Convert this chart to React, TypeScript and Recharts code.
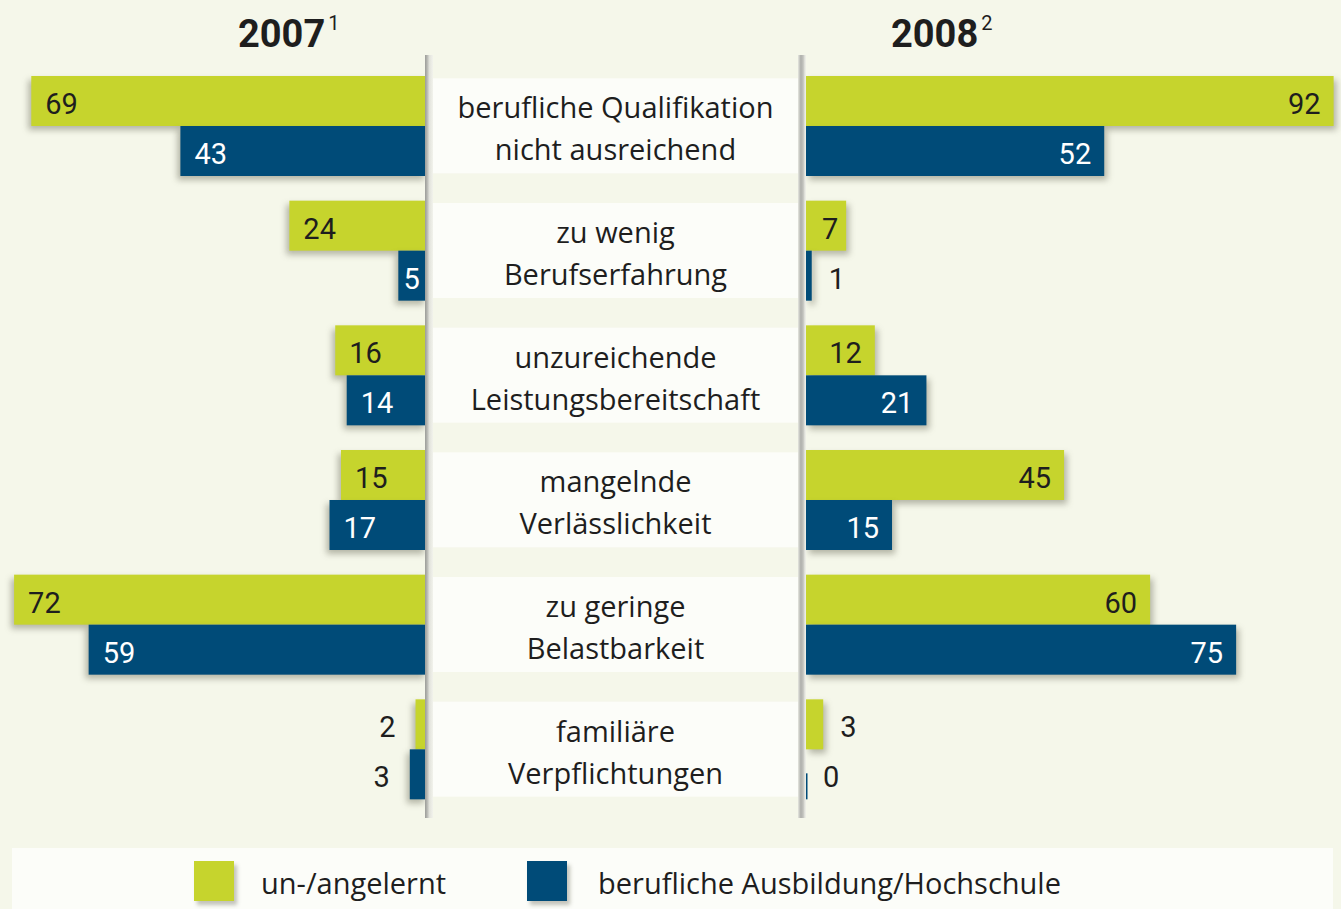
import React from 'react';
import { BarChart, Bar, XAxis, YAxis, LabelList } from 'recharts';

const CATEGORIES = [
  'berufliche Qualifikation\nnicht ausreichend',
  'zu wenig\nBerufserfahrung',
  'unzureichende\nLeistungsbereitschaft',
  'mangelnde\nVerlässlichkeit',
  'zu geringe\nBelastbarkeit',
  'familiäre\nVerpflichtungen',
];

// 2007
const UNSKILLED_2007 = [69, 24, 16, 15, 72, 2];
const TRAINED_2007 = [43, 5, 14, 17, 59, 3];
// 2008
const UNSKILLED_2008 = [92, 7, 12, 45, 60, 3];
const TRAINED_2008 = [52, 1, 21, 15, 75, 0];

const SERIES_NAMES = ['un-/angelernt', 'berufliche Ausbildung/Hochschule'];

const GREEN = '#c6d42d';
const BLUE = '#004b78';
const BG = '#f5f7ea';
const TEXT = '#1e1e1e';

const PX_PER_UNIT = 5.735;
const CHART_H = 830;
const MARGIN = { top: 64, right: 0, bottom: 18, left: 0 };

const leftData = CATEGORIES.map((cat, i) => ({ cat, a: UNSKILLED_2007[i], b: TRAINED_2007[i] }));
const rightData = CATEGORIES.map((cat, i) => ({ cat, a: UNSKILLED_2008[i], b: TRAINED_2008[i] }));

const numFont = { fontFamily: 'Roboto, sans-serif', fontSize: 29 };

const makeLabel = (side: 'left' | 'right', onBar: string) => (props: any) => {
  const { x, y, width, height, value } = props;
  const w = Math.abs(width);
  const lo = Math.min(x, x + width);
  const hi = Math.max(x, x + width);
  const cy = y + height / 2 + 13;
  let tx: number;
  let anchor: 'start' | 'end' | 'middle';
  let fill = onBar;
  if (w < 25) {
    fill = TEXT;
    tx = side === 'left' ? lo - 20 : hi + 17;
    anchor = side === 'left' ? 'end' : 'start';
  } else if (w < 45) {
    tx = (lo + hi) / 2 + (side === 'right' ? 4 : -1);
    anchor = 'middle';
  } else {
    tx = side === 'left' ? lo + 14 : hi - 13;
    anchor = side === 'left' ? 'start' : 'end';
  }
  return (
    <text x={tx} y={cy} textAnchor={anchor} fill={fill} style={numFont}>
      {value}
    </text>
  );
};

const makeShape = (side: 'left' | 'right') => (props: any) => {
  const { x, y, width, height, fill } = props;
  const lo = Math.min(x, x + width);
  const w = Math.abs(width);
  if (!w && side === 'right') {
    return <rect x={lo} y={y + height - 26} width={1.5} height={26} fill={fill} />;
  }
  const dx = side === 'left' ? -3 : 3;
  return (
    <rect
      x={lo}
      y={y}
      width={w}
      height={height}
      fill={fill}
      style={{ filter: `drop-shadow(${dx}px 4px 3px rgba(60,60,40,0.35))` }}
    />
  );
};

const CenterTick = (props: any) => {
  const { y, payload } = props;
  const lines = String(payload.value).split('\n');
  return (
    <g>
      <rect x={433} y={y - 48} width={365} height={95} fill="#fcfdf9" />
      {lines.map((ln, i) => (
        <text
          key={i}
          x={615.5}
          y={y - 8 + i * 42}
          textAnchor="middle"
          fill={TEXT}
          style={{ fontFamily: '"Open Sans", sans-serif', fontSize: 29 }}
        >
          {ln}
        </text>
      ))}
    </g>
  );
};

export default function App() {
  return (
    <div style={{ position: 'fixed', left: 0, top: 0, width: 1341, height: 909, background: BG, overflow: 'hidden' }}>
      <svg width={1341} height={60} style={{ position: 'absolute', left: 0, top: 0 }}>
        <text x={238} y={47} fill={TEXT} style={{ fontFamily: 'Roboto, sans-serif', fontSize: 38, fontWeight: 700 }}>
          2007
          <tspan dx={3} dy={-17} style={{ fontSize: 20, fontWeight: 400 }}>1</tspan>
        </text>
        <text x={891} y={47} fill={TEXT} style={{ fontFamily: 'Roboto, sans-serif', fontSize: 38, fontWeight: 700 }}>
          2008
          <tspan dx={3} dy={-17} style={{ fontSize: 20, fontWeight: 400 }}>2</tspan>
        </text>
      </svg>

      <div style={{ position: 'absolute', left: 0, top: 0 }}>
        <BarChart width={806} height={CHART_H} data={leftData} layout="vertical" margin={MARGIN} barGap={0}>
          <XAxis type="number" hide reversed domain={[0, 427 / PX_PER_UNIT]} allowDataOverflow />
          <YAxis
            type="category"
            dataKey="cat"
            orientation="right"
            width={379}
            axisLine={false}
            tickLine={false}
            interval={0}
            tick={<CenterTick />}
          />
          <Bar dataKey="a" name={SERIES_NAMES[0]} fill={GREEN} barSize={50} isAnimationActive={false} shape={makeShape('left')}>
            <LabelList dataKey="a" content={makeLabel('left', TEXT)} />
          </Bar>
          <Bar dataKey="b" name={SERIES_NAMES[1]} fill={BLUE} barSize={50} isAnimationActive={false} shape={makeShape('left')}>
            <LabelList dataKey="b" content={makeLabel('left', '#ffffff')} />
          </Bar>
        </BarChart>
      </div>

      <div style={{ position: 'absolute', left: 806, top: 0 }}>
        <BarChart width={535} height={CHART_H} data={rightData} layout="vertical" margin={MARGIN} barGap={0}>
          <XAxis type="number" hide domain={[0, 535 / PX_PER_UNIT]} allowDataOverflow />
          <YAxis type="category" dataKey="cat" hide width={0} />
          <Bar dataKey="a" name={SERIES_NAMES[0]} fill={GREEN} barSize={50} isAnimationActive={false} shape={makeShape('right')}>
            <LabelList dataKey="a" content={makeLabel('right', TEXT)} />
          </Bar>
          <Bar dataKey="b" name={SERIES_NAMES[1]} fill={BLUE} barSize={50} isAnimationActive={false} shape={makeShape('right')}>
            <LabelList dataKey="b" content={makeLabel('right', '#ffffff')} />
          </Bar>
        </BarChart>
      </div>

      {/* divider rails */}
      <div
        style={{
          position: 'absolute', left: 425, top: 55, width: 8, height: 763,
          background: 'linear-gradient(to right, #9c9d99 0%, #b4b5b0 25%, #e2e3dc 55%, #f2f3ec 100%)',
        }}
      />
      <div
        style={{
          position: 'absolute', left: 798, top: 55, width: 8, height: 763,
          background: 'linear-gradient(to right, #e6e7e0 0%, #aeafab 35%, #c2c3be 65%, #e4e5de 85%, #f0f1ea 100%)',
        }}
      />

      {/* legend */}
      <div style={{ position: 'absolute', left: 12, top: 848, width: 1321, height: 61, background: '#fcfdf9' }}>
        {[GREEN, BLUE].map((c, i) => (
          <div key={i}>
            <div
              style={{
                position: 'absolute', left: i === 0 ? 182 : 515, top: 13, width: 40, height: 40, background: c,
                boxShadow: '3px 4px 4px rgba(60,60,40,0.3)',
              }}
            />
            <div
              style={{
                position: 'absolute', left: i === 0 ? 249 : 586, top: 13, lineHeight: '44px',
                fontFamily: '"Open Sans", sans-serif', fontSize: 29, color: TEXT, whiteSpace: 'nowrap',
              }}
            >
              {SERIES_NAMES[i]}
            </div>
          </div>
        ))}
      </div>
    </div>
  );
}
